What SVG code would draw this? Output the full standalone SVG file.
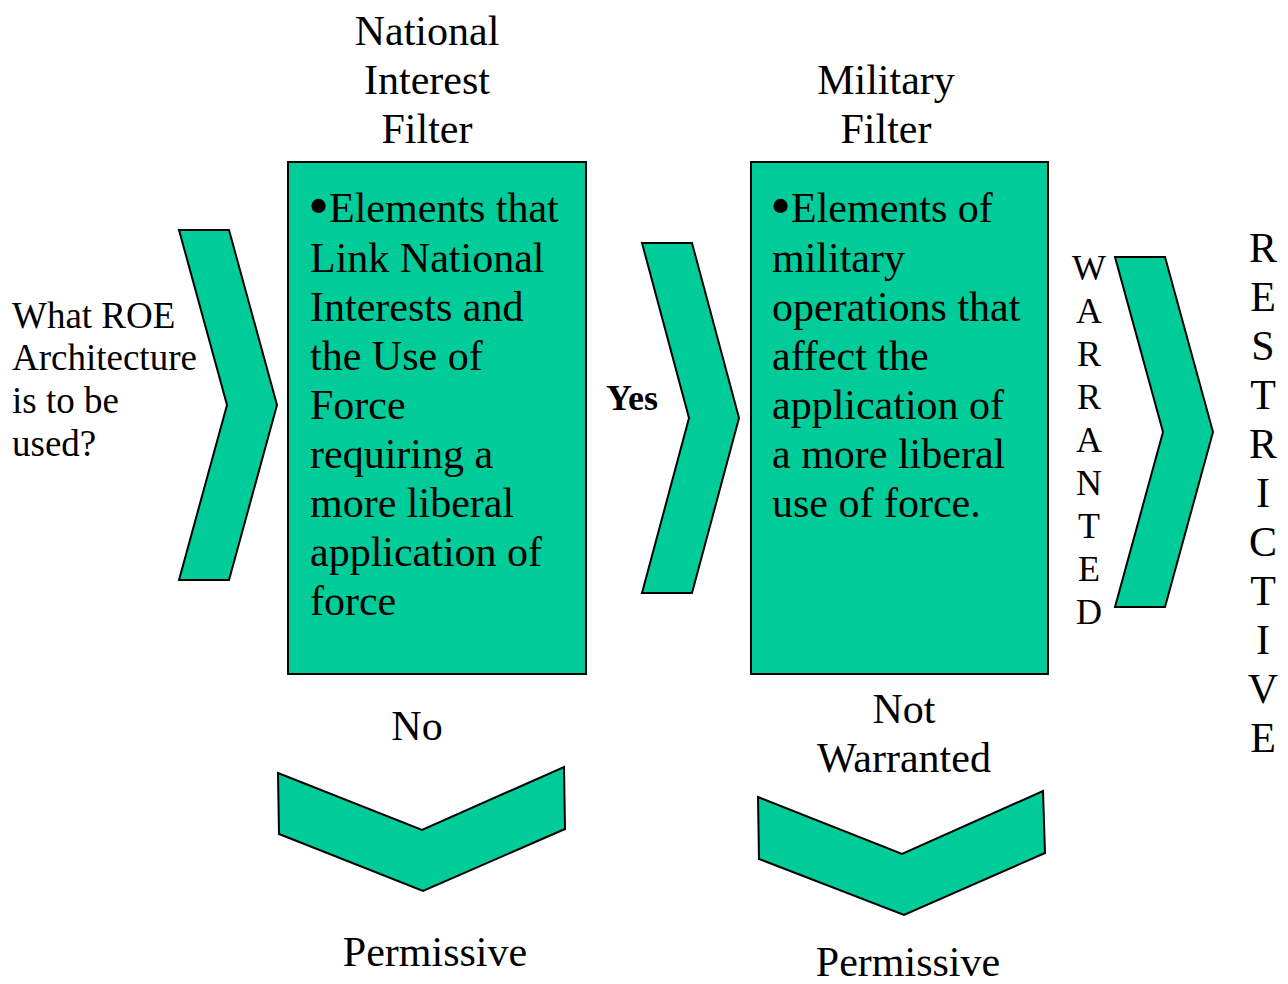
<svg xmlns="http://www.w3.org/2000/svg" width="1288" height="984" viewBox="0 0 1288 984">
  <style>
    .shape { fill: #00CC99; stroke: #000000; stroke-width: 2; stroke-linejoin: miter; }
    .t { font-family: "Liberation Serif", "Times New Roman", "DejaVu Serif", serif; fill: #000000; }
    .t42 { font-size: 42px; }
    .t37 { font-size: 37px; }
    .t36 { font-size: 36px; }
    .mid { text-anchor: middle; }
    .bold { font-weight: bold; }
    .bullet { font-size: 60px; }
  </style>
  <rect width="1288" height="984" fill="#ffffff"/>

  <!-- Question label -->
  <g id="question">
    <text class="t t37" x="12" y="328">What ROE</text>
    <text class="t t37" x="12" y="370">Architecture</text>
    <text class="t t37" x="12" y="413">is to be</text>
    <text class="t t37" x="12" y="456">used?</text>
  </g>

  <!-- Filter titles -->
  <g id="national-title">
    <text class="t t42 mid" x="427" y="45">National</text>
    <text class="t t42 mid" x="427" y="94">Interest</text>
    <text class="t t42 mid" x="427" y="143">Filter</text>
  </g>
  <g id="military-title">
    <text class="t t42 mid" x="886" y="94">Military</text>
    <text class="t t42 mid" x="886" y="143">Filter</text>
  </g>

  <!-- Connectors: chevron arrows and branch labels -->
  <g id="connectors">
    <polygon id="arrow-in" class="shape" points="179,230 229,230 277,405 229,580 179,580 227,405"/>
    <polygon id="arrow-yes" class="shape" points="642,243 692,243 739,418 692,593 642,593 689,418"/>
    <polygon id="arrow-warranted" class="shape" points="1115,257 1165,257 1213,432 1165,607 1115,607 1163,432"/>
    <polygon id="arrow-no" class="shape" points="278,773 422,830 564,767 565,829 423,891 279,834"/>
    <polygon id="arrow-not-warranted" class="shape" points="758,797 902,854 1043,791 1045,853 904,915 759,859"/>

    <text class="t t36 bold" x="606" y="410">Yes</text>
    <text class="t t42 mid" x="417" y="740">No</text>
    <text class="t t42 mid" x="904" y="723">Not</text>
    <text class="t t42 mid" x="904" y="772">Warranted</text>

    <g class="t t36 mid">
      <text x="1089" y="280">W</text>
      <text x="1089" y="323">A</text>
      <text x="1089" y="366">R</text>
      <text x="1089" y="409">R</text>
      <text x="1089" y="452">A</text>
      <text x="1089" y="495">N</text>
      <text x="1089" y="538">T</text>
      <text x="1089" y="581">E</text>
      <text x="1089" y="624">D</text>
    </g>
  </g>

  <!-- National interest filter box -->
  <g id="national-filter">
    <rect class="shape" x="288" y="162" width="298" height="512"/>
    <g class="t t42">
      <text class="bullet" x="308" y="226">•</text>
      <text x="329" y="222">Elements that</text>
      <text x="310" y="272">Link National</text>
      <text x="310" y="321">Interests and</text>
      <text x="310" y="370">the Use of</text>
      <text x="310" y="419">Force</text>
      <text x="310" y="468">requiring a</text>
      <text x="310" y="517">more liberal</text>
      <text x="310" y="566">application of</text>
      <text x="310" y="615">force</text>
    </g>
  </g>

  <!-- Military filter box -->
  <g id="military-filter">
    <rect class="shape" x="751" y="162" width="297" height="512"/>
    <g class="t t42">
      <text class="bullet" x="770" y="226">•</text>
      <text x="791" y="222">Elements of</text>
      <text x="772" y="272">military</text>
      <text x="772" y="321">operations that</text>
      <text x="772" y="370">affect the</text>
      <text x="772" y="419">application of</text>
      <text x="772" y="468">a more liberal</text>
      <text x="772" y="517">use of force.</text>
    </g>
  </g>

  <!-- Outcomes -->
  <g id="restrictive">
    <g class="t t42 mid">
      <text x="1263" y="262">R</text>
      <text x="1263" y="311">E</text>
      <text x="1263" y="360">S</text>
      <text x="1263" y="409">T</text>
      <text x="1263" y="458">R</text>
      <text x="1263" y="507">I</text>
      <text x="1263" y="556">C</text>
      <text x="1263" y="605">T</text>
      <text x="1263" y="654">I</text>
      <text x="1263" y="703">V</text>
      <text x="1263" y="752">E</text>
    </g>
  </g>
  <g id="permissive-1">
    <text class="t t42 mid" x="435" y="966">Permissive</text>
  </g>
  <g id="permissive-2">
    <text class="t t42 mid" x="908" y="976">Permissive</text>
  </g>
</svg>
